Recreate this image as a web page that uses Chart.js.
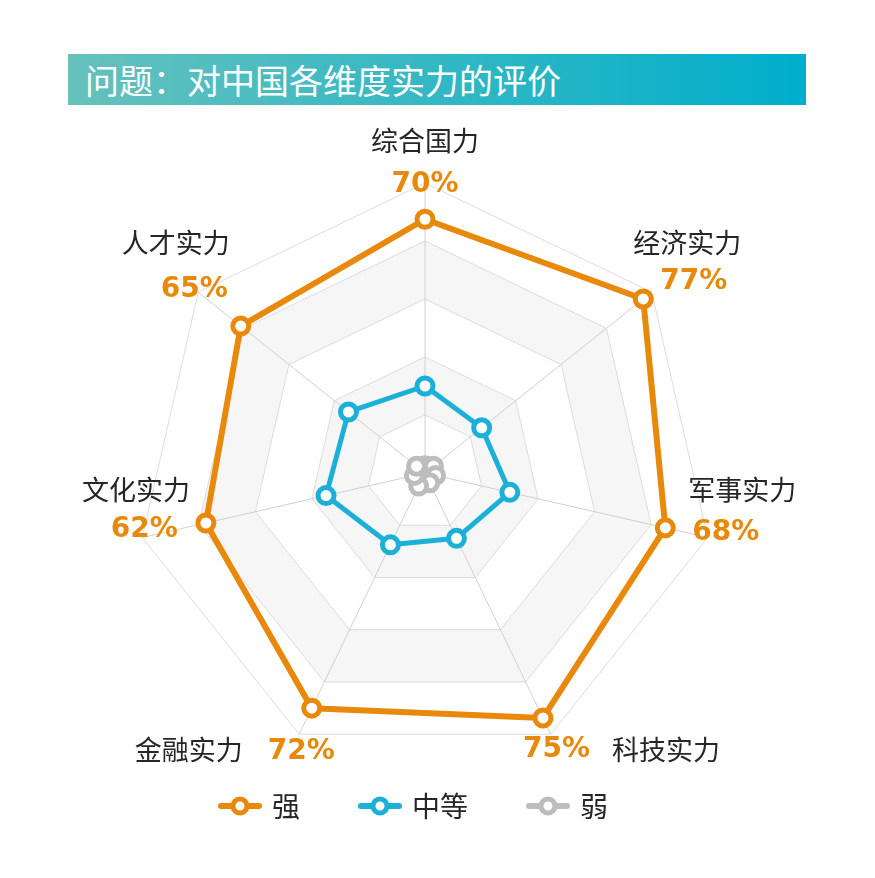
<!DOCTYPE html>
<html>
<head>
<meta charset="utf-8">
<script src="https://cdn.jsdelivr.net/npm/chart.js@4.4.1/dist/chart.umd.min.js"></script>
<style>
    html, body { margin: 0; padding: 0; background: #fff; }
    #wrap { position: relative; width: 875px; height: 878px; }
    #title {
        position: absolute; left: 68px; top: 54px; width: 738px; height: 51px;
        background: linear-gradient(to right, #66c1bc, #00aecb);
        color: #fff; font: 34px "Noto Sans CJK SC"; line-height: 51px;
        padding-left: 17px; box-sizing: border-box;
    }
    canvas { position: absolute; left: 0; top: 0; }
</style>
</head>
<body>
<div id="wrap">
    <canvas id="chartRadar" width="875" height="878"></canvas>
    <div id="title">问题：对中国各维度实力的评价</div>
</div>
<script>
var categories = ["综合国力", "经济实力", "军事实力", "科技实力", "金融实力", "文化实力", "人才实力"];
var strongValues = [70, 77, 68, 75, 72, 62, 65];
var mediumValues = [24, 20, 24, 20, 22, 28, 27];
var weakValues = [2, 3, 3, 3, 4, 3, 3];
var seriesNames = ["强", "中等", "弱"];
var seriesColors = ["#e8890c", "#1cb0d9", "#bdbdbd"];

// where the texts sit around each orange point: [dx, dy, align]
var pctLayout = [[0, -35, "center"], [17, -17, "left"], [27, 5, "left"], [47, 32, "right"],
    [-44, 44, "left"], [-28, 7, "right"], [-13, -36, "right"]];
var catLayout = [[0, -79, "center"], [-10, -56, "left"], [23, -38, "left"], [69, 32, "left"],
    [-69, 42, "right"], [-16, -33, "right"], [-11, -83, "right"]];

var bandPlugin = {
    id: "bands",
    beforeDraw: function (chart) {
        var scale = chart.scales.r;
        var ctx = chart.ctx;
        [[16, 32], [48, 64]].forEach(function (band) {
            ctx.save();
            ctx.beginPath();
            for (var i = 0; i < categories.length; i++) {
                var p = scale.getPointPositionForValue(i, band[1]);
                if (i === 0) ctx.moveTo(p.x, p.y); else ctx.lineTo(p.x, p.y);
            }
            ctx.closePath();
            for (var j = categories.length - 1; j >= 0; j--) {
                var q = scale.getPointPositionForValue(j, band[0]);
                if (j === categories.length - 1) ctx.moveTo(q.x, q.y); else ctx.lineTo(q.x, q.y);
            }
            ctx.closePath();
            ctx.fillStyle = "#f6f6f6";
            ctx.fill();
            ctx.restore();
        });
    }
};

var labelPlugin = {
    id: "valueLabels",
    afterDatasetsDraw: function (chart) {
        var scale = chart.scales.r;
        var ctx = chart.ctx;
        ctx.save();
        ctx.textBaseline = "middle";
        for (var i = 0; i < categories.length; i++) {
            var p = scale.getPointPositionForValue(i, strongValues[i]);
            ctx.font = "bold 28px 'DejaVu Sans'";
            ctx.fillStyle = seriesColors[0];
            ctx.textAlign = pctLayout[i][2];
            ctx.fillText(strongValues[i] + "%", p.x + pctLayout[i][0], p.y + pctLayout[i][1]);

            ctx.font = "27px 'Noto Sans CJK SC'";
            ctx.fillStyle = "#262626";
            ctx.textAlign = catLayout[i][2];
            ctx.fillText(categories[i], p.x + catLayout[i][0], p.y + catLayout[i][1]);
        }
        ctx.restore();
    }
};

var legendPlugin = {
    id: "lineLegend",
    afterDraw: function (chart) {
        var ctx = chart.ctx;
        var y = 806, markW = 44, gap = 10, itemGap = 58;
        ctx.save();
        ctx.font = "28px 'Noto Sans CJK SC'";
        var widths = seriesNames.map(function (n) { return markW + gap + ctx.measureText(n).width; });
        var total = widths.reduce(function (a, b) { return a + b; }, 0) + itemGap * (seriesNames.length - 1);
        var x = 413 - total / 2;
        seriesNames.forEach(function (name, i) {
            ctx.strokeStyle = seriesColors[i];
            ctx.lineWidth = 6;
            ctx.lineCap = "round";
            ctx.beginPath();
            ctx.moveTo(x + 3, y);
            ctx.lineTo(x + markW - 3, y);
            ctx.stroke();
            ctx.beginPath();
            ctx.arc(x + markW / 2, y, 7, 0, Math.PI * 2);
            ctx.fillStyle = "#fff";
            ctx.fill();
            ctx.lineWidth = 5;
            ctx.stroke();
            ctx.fillStyle = "#262626";
            ctx.textAlign = "left";
            ctx.textBaseline = "middle";
            ctx.fillText(name, x + markW + gap, y);
            x += widths[i] + itemGap;
        });
        ctx.restore();
    }
};

function makeSet(name, values, color, width) {
    return {
        label: name,
        data: values,
        fill: false,
        borderColor: color,
        borderWidth: width,
        borderJoinStyle: "round",
        pointRadius: 8,
        pointBorderWidth: 5,
        pointBorderColor: color,
        pointBackgroundColor: "#fff"
    };
}

var ctx = document.getElementById("chartRadar");
var myChart = new Chart(ctx, {
    type: "radar",
    data: {
        labels: categories,
        datasets: [
            makeSet(seriesNames[2], weakValues, seriesColors[2], 5),
            makeSet(seriesNames[1], mediumValues, seriesColors[1], 5),
            makeSet(seriesNames[0], strongValues, seriesColors[0], 6)
        ]
    },
    options: {
        responsive: false,
        animation: false,
        layout: { padding: { left: 135, right: 160, top: 183, bottom: 115 } },
        plugins: { legend: { display: false }, tooltip: { enabled: false } },
        scales: {
            r: {
                min: 0,
                max: 80,
                ticks: { stepSize: 16, display: false },
                grid: { color: "#dcdcdc", lineWidth: 1 },
                angleLines: { color: "#d0d0d0", lineWidth: 1 },
                pointLabels: { display: false }
            }
        }
    },
    plugins: [bandPlugin, labelPlugin, legendPlugin]
});
</script>
</body>
</html>
